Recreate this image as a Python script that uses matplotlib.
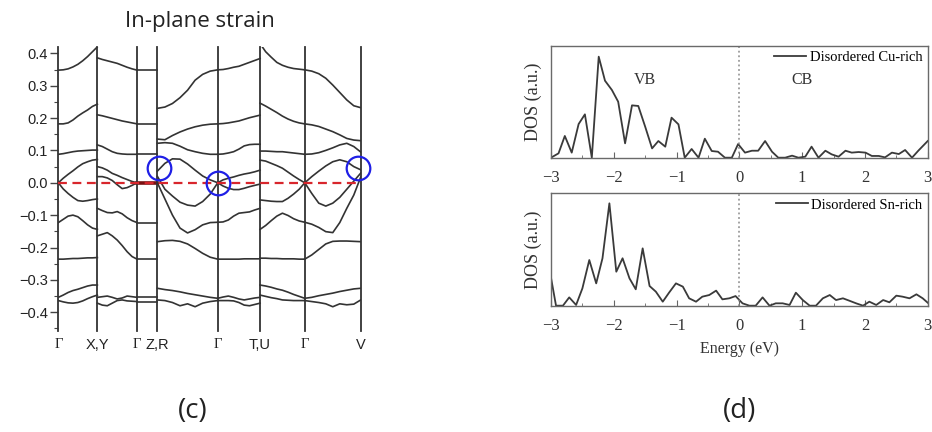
import numpy as np
import matplotlib.pyplot as plt
from matplotlib.ticker import MultipleLocator

# ---- band structure (c) ----
# k-path nodes (path length units) and their labels
k_nodes = [0, 39.0, 78.7, 99.0, 159.4, 201.7, 246.4, 302.4]
k_labels = ['Γ', 'X,Y', 'Γ', 'Z,R', 'Γ', 'T,U', 'Γ', 'V']

# band energies (eV), sampled evenly along each path segment
seg_gx = [
    [0.348, 0.349, 0.352, 0.358, 0.366, 0.377, 0.390, 0.405, 0.420],
    [0.182, 0.182, 0.185, 0.194, 0.206, 0.216, 0.225, 0.236, 0.243],
    [0.088, 0.090, 0.093, 0.096, 0.098, 0.099, 0.100, 0.101, 0.101],
    [0.000, 0.014, 0.026, 0.037, 0.049, 0.059, 0.065, 0.070, 0.072],
    [0.000, -0.019, -0.033, -0.045, -0.055, -0.057, -0.055, -0.052, -0.050],
    [-0.123, -0.113, -0.103, -0.100, -0.105, -0.117, -0.130, -0.140, -0.144],
    [-0.236, -0.236, -0.235, -0.234, -0.234, -0.233, -0.232, -0.232, -0.231],
    [-0.354, -0.347, -0.339, -0.333, -0.329, -0.324, -0.319, -0.316, -0.316],
    [-0.364, -0.368, -0.371, -0.372, -0.370, -0.365, -0.358, -0.352, -0.347],
]
seg_xg = [
    [0.386, 0.381, 0.377, 0.373, 0.369, 0.363, 0.357, 0.352, 0.348],
    [0.210, 0.207, 0.203, 0.199, 0.195, 0.191, 0.188, 0.185, 0.182],
    [0.117, 0.112, 0.104, 0.096, 0.091, 0.089, 0.088, 0.088, 0.088],
    [0.050, 0.046, 0.039, 0.029, 0.023, 0.016, 0.010, 0.004, 0.000],
    [0.019, 0.019, 0.015, 0.007, -0.006, -0.018, -0.015, -0.008, 0.000],
    [-0.079, -0.086, -0.092, -0.093, -0.089, -0.096, -0.108, -0.117, -0.123],
    [-0.164, -0.159, -0.154, -0.164, -0.177, -0.194, -0.213, -0.228, -0.236],
    [-0.354, -0.352, -0.350, -0.354, -0.359, -0.356, -0.350, -0.352, -0.354],
    [-0.372, -0.378, -0.380, -0.372, -0.364, -0.362, -0.365, -0.366, -0.367],
]
seg_gz = [
    [0.348, 0.348],
    [0.182, 0.182],
    [0.088, 0.088],
    [-0.123, -0.123],
    [-0.236, -0.236],
    [-0.354, -0.354],
    [-0.367, -0.367],
]
gz_fermi = [0.0, 0.0]
seg_zg = [
    [0.230, 0.234, 0.245, 0.263, 0.286, 0.317, 0.335, 0.345, 0.349],
    [0.135, 0.133, 0.146, 0.157, 0.166, 0.173, 0.178, 0.181, 0.182],
    [0.122, 0.124, 0.122, 0.113, 0.102, 0.096, 0.091, 0.088, 0.088],
    [0.036, 0.060, 0.074, 0.073, 0.058, 0.039, 0.021, 0.009, 0.000],
    [0.020, -0.020, -0.041, -0.060, -0.069, -0.072, -0.058, -0.035, 0.000],
    [0.000, -0.050, -0.100, -0.140, -0.155, -0.145, -0.130, -0.123, -0.122],
    [-0.182, -0.179, -0.178, -0.181, -0.189, -0.203, -0.218, -0.230, -0.236],
    [-0.326, -0.330, -0.333, -0.337, -0.342, -0.346, -0.350, -0.354, -0.357],
    [-0.362, -0.364, -0.370, -0.380, -0.374, -0.383, -0.372, -0.367, -0.364],
]
seg_gt = [
    [0.349, 0.350, 0.353, 0.357, 0.360, 0.366, 0.372, 0.378, 0.384],
    [0.182, 0.183, 0.185, 0.188, 0.191, 0.196, 0.201, 0.205, 0.209],
    [0.088, 0.089, 0.092, 0.096, 0.104, 0.114, 0.118, 0.119, 0.119],
    [0.000, 0.009, 0.014, 0.018, 0.023, 0.027, 0.030, 0.034, 0.039],
    [0.000, -0.010, -0.017, -0.021, -0.021, -0.017, -0.012, -0.008, -0.004],
    [-0.122, -0.121, -0.115, -0.103, -0.094, -0.092, -0.090, -0.084, -0.079],
    [-0.236, -0.236, -0.236, -0.236, -0.236, -0.235, -0.235, -0.235, -0.235],
    [-0.357, -0.353, -0.350, -0.354, -0.359, -0.362, -0.359, -0.356, -0.354],
    [-0.364, -0.364, -0.364, -0.365, -0.370, -0.378, -0.380, -0.376, -0.372],
]
seg_tg = [
    [0.430, 0.405, 0.388, 0.372, 0.363, 0.357, 0.353, 0.351, 0.349],
    [0.246, 0.237, 0.227, 0.217, 0.206, 0.197, 0.190, 0.185, 0.182],
    [0.098, 0.098, 0.097, 0.096, 0.096, 0.094, 0.092, 0.090, 0.088],
    [0.070, 0.067, 0.060, 0.053, 0.045, 0.033, 0.021, 0.010, 0.000],
    [-0.053, -0.055, -0.057, -0.058, -0.058, -0.048, -0.035, -0.020, 0.000],
    [-0.144, -0.132, -0.117, -0.103, -0.094, -0.101, -0.111, -0.118, -0.122],
    [-0.233, -0.233, -0.234, -0.234, -0.235, -0.235, -0.235, -0.236, -0.236],
    [-0.316, -0.319, -0.323, -0.328, -0.332, -0.338, -0.345, -0.351, -0.357],
    [-0.347, -0.351, -0.355, -0.358, -0.362, -0.363, -0.364, -0.364, -0.364],
]
seg_gv = [
    [0.349, 0.345, 0.337, 0.323, 0.302, 0.279, 0.256, 0.238, 0.232],
    [0.182, 0.179, 0.174, 0.166, 0.158, 0.148, 0.137, 0.132, 0.130],
    [0.088, 0.089, 0.093, 0.100, 0.108, 0.117, 0.122, 0.112, 0.095],
    [0.000, 0.019, 0.036, 0.052, 0.065, 0.071, 0.065, 0.050, 0.040],
    [0.000, -0.033, -0.063, -0.072, -0.063, -0.045, -0.020, 0.005, 0.030],
    [-0.122, -0.128, -0.138, -0.151, -0.154, -0.123, -0.079, -0.038, 0.018],
    [-0.236, -0.223, -0.206, -0.189, -0.181, -0.180, -0.180, -0.181, -0.182],
    [-0.357, -0.354, -0.349, -0.345, -0.341, -0.336, -0.332, -0.328, -0.326],
    [-0.364, -0.367, -0.370, -0.374, -0.383, -0.374, -0.377, -0.375, -0.362],
]
segments = [seg_gx, seg_xg, seg_gz, seg_zg, seg_gt, seg_tg, seg_gv]

# band-touching points marked with circles
dirac_k = [101.0, 160.0, 300.0]
dirac_e = [0.045, -0.002, 0.045]

# energy tick values on the band panel
e_ticks = [-0.4, -0.3, -0.2, -0.1, 0.0, 0.1, 0.2, 0.3, 0.4]

# ---- DOS (d) ----
e_cu = [-3.00, -2.88, -2.78, -2.67, -2.56, -2.46, -2.35, -2.24, -2.14, -2.03,
        -1.93, -1.82, -1.71, -1.61, -1.50, -1.39, -1.29, -1.18, -1.08, -0.97,
        -0.87, -0.76, -0.65, -0.55, -0.44, -0.34, -0.23, -0.12, -0.02, 0.09,
        0.20, 0.30, 0.41, 0.52, 0.62, 0.73, 0.84, 0.94, 1.05, 1.15,
        1.26, 1.37, 1.47, 1.58, 1.69, 1.79, 1.90, 2.01, 2.11, 2.22,
        2.32, 2.43, 2.54, 2.64, 2.75, 2.85, 3.00]
dos_cu = [0, 0.043, 0.215, 0.05, 0.333, 0.429, 0, 1.0, 0.762, 0.67,
          0.554, 0.142, 0.518, 0.512, 0.307, 0.092, 0.165, 0.109, 0.396, 0.33,
          0, 0.086, 0, 0.188, 0.066, 0.059, 0, 0, 0.135, 0.05,
          0.069, 0.069, 0.165, 0.059, 0, 0, 0.02, 0, 0.01, 0.109,
          0, 0.069, 0.033, 0.01, 0.069, 0.05, 0.056, 0.05, 0.017, 0.017,
          0.003, 0.05, 0.036, 0.076, 0, 0.069, 0.165]

e_sn = [-3.00, -2.92, -2.81, -2.71, -2.60, -2.50, -2.39, -2.28, -2.18, -2.07,
        -1.96, -1.86, -1.75, -1.65, -1.54, -1.43, -1.33, -1.22, -1.12, -1.01,
        -0.90, -0.80, -0.69, -0.59, -0.48, -0.37, -0.27, -0.16, -0.06, 0.05,
        0.16, 0.26, 0.37, 0.48, 0.58, 0.69, 0.80, 0.90, 1.01, 1.12,
        1.22, 1.33, 1.44, 1.54, 1.65, 1.75, 1.86, 1.97, 2.07, 2.18,
        2.29, 2.39, 2.50, 2.60, 2.71, 2.82, 2.92, 3.00]
dos_sn = [0.274, 0, 0, 0.081, 0.007, 0.169, 0.446, 0.218, 0.463, 1.0,
          0.332, 0.463, 0.267, 0.16, 0.56, 0.192, 0.137, 0.039, 0.127, 0.218,
          0.186, 0.072, 0.039, 0.088, 0.104, 0.147, 0.062, 0.072, 0.094, 0.023,
          0, 0, 0.081, 0, 0.023, 0.023, 0.007, 0.127, 0.055, 0,
          0, 0.072, 0.104, 0.055, 0.072, 0.049, 0.023, 0, 0.039, 0.007,
          0.055, 0.033, 0.098, 0.088, 0.072, 0.111, 0.072, 0.029]

band_col = '#333333'
sans = 'Liberation Sans'
serif = 'Liberation Serif'

fig = plt.figure(figsize=(9.32, 4.32), dpi=100)

# band structure panel
ax = fig.add_axes([0.0626, 0.2338, 0.3245, 0.657])
for i, seg in enumerate(segments):
    for band in seg:
        k = np.linspace(k_nodes[i], k_nodes[i + 1], len(band))
        ax.plot(k, band, color=band_col, lw=1.2)
ax.plot([k_nodes[2], k_nodes[3]], gz_fermi, color='#7a1212', lw=2.6)
for kn in k_nodes:
    ax.axvline(kn, color=band_col, lw=1.3, clip_on=False)
ax.axhline(0, color='#d8262c', lw=1.6, ls=(0, (4, 2.5)))
ax.plot(dirac_k, dirac_e, 'o', ms=17, mfc='none', mec='#1f1fe6', mew=1.6,
        clip_on=False)

ax.set_xlim(k_nodes[0], k_nodes[-1])
ax.set_ylim(-0.458, 0.419)
for s in ax.spines.values():
    s.set_visible(False)
ax.set_yticks(e_ticks)
ax.set_yticklabels([('%.1f' % v).replace('-', '\u2212') for v in e_ticks])
ax.yaxis.set_minor_locator(MultipleLocator(0.05))
ax.tick_params(axis='y', which='major', length=6, width=1, color='#444444',
               pad=1.5, labelsize=10.5, labelcolor='#222222')
ax.tick_params(axis='y', which='minor', length=3, width=0.8, color='#444444')
ax.set_xticks(k_nodes, k_labels)
ax.tick_params(axis='x', length=0, pad=5, labelsize=10.5, labelcolor='#222222')
for lbl in ax.get_yticklabels():
    lbl.set_family(sans)
for lbl in ax.get_xticklabels():
    lbl.set_family(serif if lbl.get_text() == 'Γ' else sans)

fig.text(200 / 932, 1 - 22 / 432, 'In-plane strain', ha='center', va='center',
         fontsize=16, family='Open Sans', color='#222222')
fig.text(193 / 932, 1 - 411 / 432, '(c)', ha='center', va='center',
         fontsize=20, family='Open Sans', color='#222222')

# DOS panels
dos_sets = [(e_cu, dos_cu, 'Disordered Cu-rich', 1.106, 0.635, 0.2586),
            (e_sn, dos_sn, 'Disordered Sn-rich', 1.098, 0.2924, 0.2602)]
axes_dos = []
for e, d, name, top, bottom, height in dos_sets:
    axd = fig.add_axes([0.5912, bottom, 0.4042, height])
    axd.plot(e, d, color='#3a3a3a', lw=1.3, label=name)
    axd.axvline(0, color='#8a8a8a', lw=1.1, ls=(0, (1.2, 1.8)))
    axd.set_xlim(-3, 3)
    axd.set_ylim(0, top)
    axd.set_yticks([])
    axd.xaxis.set_major_locator(MultipleLocator(1))
    axd.xaxis.set_minor_locator(MultipleLocator(0.5))
    axd.tick_params(axis='x', which='major', direction='in', length=4,
                    color='#666666', pad=9, labelsize=12, labelcolor='#333333')
    axd.tick_params(axis='x', which='minor', direction='in', length=2,
                    color='#666666')
    for lbl in axd.get_xticklabels():
        lbl.set_family(serif)
    for s in axd.spines.values():
        s.set_color('#6a6a6a')
        s.set_linewidth(1.0)
    axd.legend(loc='upper right', frameon=False, handlelength=2.2,
               handletextpad=0.25, borderaxespad=0.05, borderpad=0.3,
               prop={'family': serif, 'size': 10.5})
    fig.text(533 / 932, bottom + height / 2, 'DOS (a.u.)', rotation=90,
             ha='center', va='center', fontsize=13, family=serif,
             color='#333333')
    axes_dos.append(axd)

axes_dos[0].text(-1.5, 0.77, 'VB', ha='center', va='center', fontsize=11.5,
                 family=serif, color='#333333')
axes_dos[0].text(1.0, 0.77, 'CB', ha='center', va='center', fontsize=11.5,
                 family=serif, color='#333333')

fig.text(740 / 932, 1 - 349 / 432, 'Energy (eV)', ha='center', va='center',
         fontsize=11.5, family=serif, color='#333333')
fig.text(740 / 932, 1 - 411 / 432, '(d)', ha='center', va='center',
         fontsize=20, family='Open Sans', color='#222222')

fig.savefig('out.png', dpi=100)
